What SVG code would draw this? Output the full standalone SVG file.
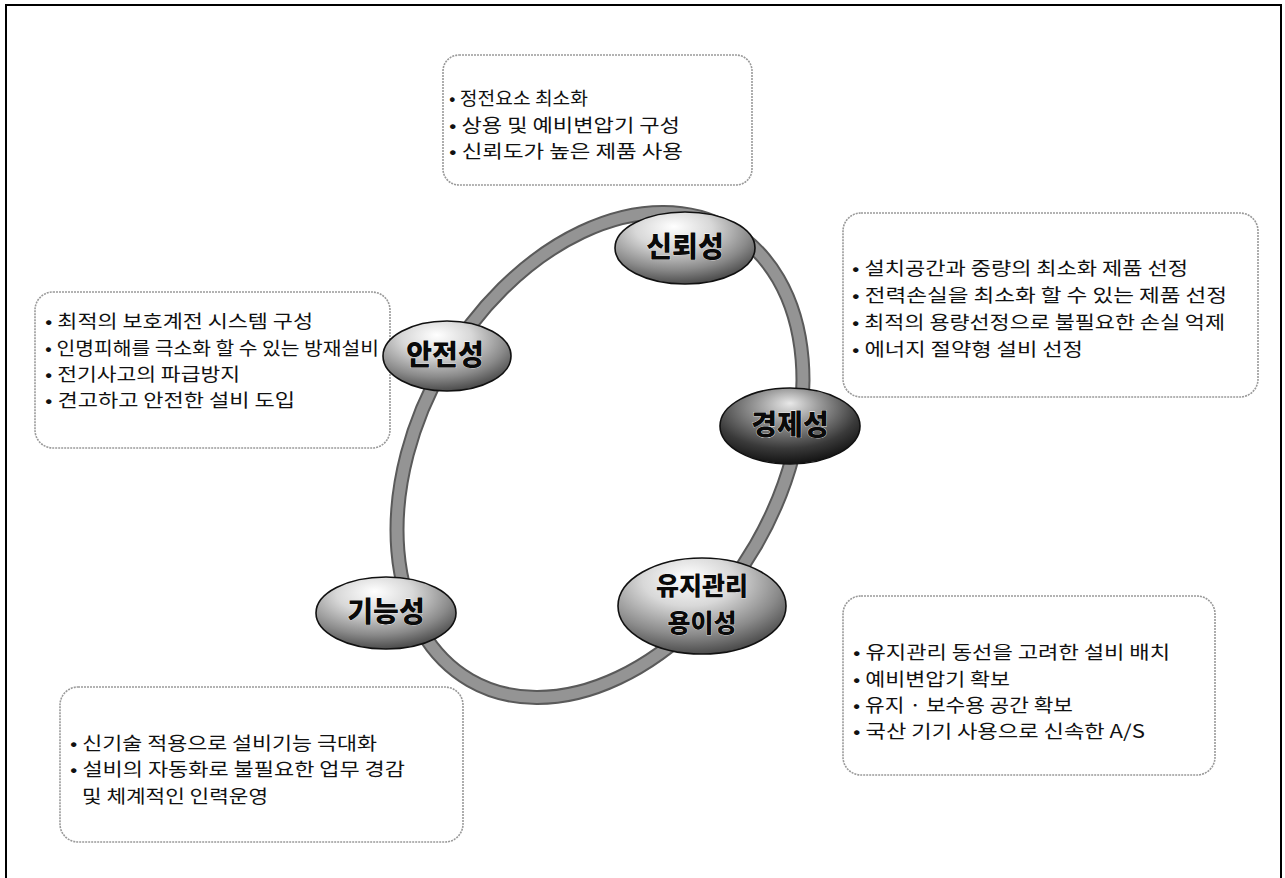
<svg xmlns="http://www.w3.org/2000/svg" width="1285" height="878" viewBox="0 0 1285 878">
<style>
.frame{fill:none;stroke:#000;stroke-width:2}
.box{fill:#fff;stroke:#9a9a9a;stroke-width:1.6;stroke-dasharray:2 1}
.t{font-family:"Noto Sans CJK KR","Liberation Sans",sans-serif;font-size:18px;fill:#111}
.lbl{font-family:"Noto Sans CJK KR","Liberation Sans",sans-serif;font-size:28px;font-weight:900;fill:#0a0a0a;text-anchor:middle;stroke:#fff;stroke-width:0.6;paint-order:stroke}
.lbl2{font-size:25px}
.node{stroke:#111;stroke-width:1.6}
</style>
<defs>
<radialGradient id="g1" cx="0.42" cy="0.28" r="0.78" fx="0.42" fy="0.2">
<stop offset="0" stop-color="#ffffff"/>
<stop offset="0.35" stop-color="#d8d8d8"/>
<stop offset="0.7" stop-color="#8a8a8a"/>
<stop offset="1" stop-color="#3a3a3a"/>
</radialGradient>
<radialGradient id="g2" cx="0.45" cy="0.3" r="0.75" fx="0.5" fy="0.2">
<stop offset="0" stop-color="#e8e8e8"/>
<stop offset="0.3" stop-color="#9a9a9a"/>
<stop offset="0.7" stop-color="#3a3a3a"/>
<stop offset="1" stop-color="#0a0a0a"/>
</radialGradient>
</defs>
<rect class="frame" x="6" y="5" width="1275" height="880"/>
<g id="connectors">
<ellipse cx="600" cy="455" rx="260" ry="180" transform="rotate(-60 600 455)" fill="none" stroke="#5a5a5a" stroke-width="15"/>
<ellipse cx="600" cy="455" rx="260" ry="180" transform="rotate(-60 600 455)" fill="none" stroke="#949494" stroke-width="11"/>
</g>
<g id="box-reliability">
<rect class="box" x="443" y="55" width="309" height="130" rx="16"/>
<text class="t" x="449" y="105" textLength="139" lengthAdjust="spacingAndGlyphs">• 정전요소 최소화</text>
<text class="t" x="449" y="132" textLength="231" lengthAdjust="spacingAndGlyphs">• 상용 및 예비변압기 구성</text>
<text class="t" x="449" y="158" textLength="234" lengthAdjust="spacingAndGlyphs">• 신뢰도가 높은 제품 사용</text>
</g>
<g id="box-economy">
<rect class="box" x="843" y="213" width="415" height="184" rx="18"/>
<text class="t" x="852" y="275" textLength="336" lengthAdjust="spacingAndGlyphs">• 설치공간과 중량의 최소화 제품 선정</text>
<text class="t" x="852" y="302" textLength="375" lengthAdjust="spacingAndGlyphs">• 전력손실을 최소화 할 수 있는 제품 선정</text>
<text class="t" x="852" y="329" textLength="373" lengthAdjust="spacingAndGlyphs">• 최적의 용량선정으로 불필요한 손실 억제</text>
<text class="t" x="852" y="356" textLength="231" lengthAdjust="spacingAndGlyphs">• 에너지 절약형 설비 선정</text>
</g>
<g id="box-safety">
<rect class="box" x="35" y="292" width="355" height="156" rx="18"/>
<text class="t" x="45" y="328" textLength="268" lengthAdjust="spacingAndGlyphs">• 최적의 보호계전 시스템 구성</text>
<text class="t" x="45" y="355" textLength="334" lengthAdjust="spacingAndGlyphs">• 인명피해를 극소화 할 수 있는 방재설비</text>
<text class="t" x="45" y="381" textLength="195" lengthAdjust="spacingAndGlyphs">• 전기사고의 파급방지</text>
<text class="t" x="45" y="407" textLength="250" lengthAdjust="spacingAndGlyphs">• 견고하고 안전한 설비 도입</text>
</g>
<g id="box-maintenance">
<rect class="box" x="843" y="596" width="372" height="179" rx="18"/>
<text class="t" x="853" y="659" textLength="317" lengthAdjust="spacingAndGlyphs">• 유지관리 동선을 고려한 설비 배치</text>
<text class="t" x="853" y="686" textLength="157" lengthAdjust="spacingAndGlyphs">• 예비변압기 확보</text>
<text class="t" x="853" y="712" textLength="220" lengthAdjust="spacingAndGlyphs">• 유지 · 보수용 공간 확보</text>
<text class="t" x="853" y="738" textLength="292" lengthAdjust="spacingAndGlyphs">• 국산 기기 사용으로 신속한 A/S</text>
</g>
<g id="box-function">
<rect class="box" x="60" y="687" width="403" height="155" rx="18"/>
<text class="t" x="70" y="750" textLength="307" lengthAdjust="spacingAndGlyphs">• 신기술 적용으로 설비기능 극대화</text>
<text class="t" x="70" y="776" textLength="335" lengthAdjust="spacingAndGlyphs">• 설비의 자동화로 불필요한 업무 경감</text>
<text class="t" x="82" y="803" textLength="186" lengthAdjust="spacingAndGlyphs">및 체계적인 인력운영</text>
</g>
<g id="node-reliability">
<ellipse class="node" cx="685" cy="248" rx="70" ry="36" fill="url(#g1)"/>
<text class="lbl" x="685" y="257">신뢰성</text>
</g>
<g id="node-safety">
<ellipse class="node" cx="447" cy="356" rx="64" ry="35" fill="url(#g1)"/>
<text class="lbl" x="445" y="365">안전성</text>
</g>
<g id="node-economy">
<ellipse class="node" cx="790" cy="426" rx="70" ry="38" fill="url(#g2)"/>
<text class="lbl" x="790" y="435">경제성</text>
</g>
<g id="node-maintenance">
<ellipse class="node" cx="702" cy="606" rx="84" ry="48" fill="url(#g1)"/>
<text class="lbl lbl2" x="702" y="595">유지관리</text>
<text class="lbl lbl2" x="702" y="632">용이성</text>
</g>
<g id="node-function">
<ellipse class="node" cx="386" cy="613" rx="70" ry="36" fill="url(#g1)"/>
<text class="lbl" x="386" y="622">기능성</text>
</g>
</svg>
